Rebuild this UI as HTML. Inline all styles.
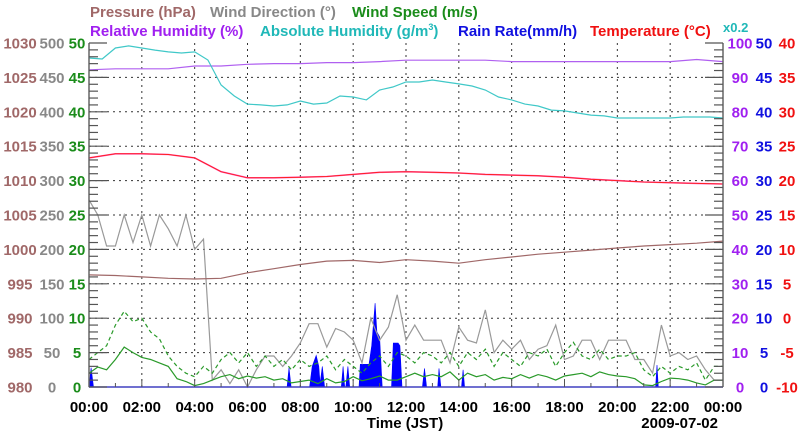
<!DOCTYPE html>
<html><head><meta charset="utf-8"><style>
html,body{margin:0;padding:0;background:#fff;}
svg{display:block;font-family:"Liberation Sans",sans-serif;font-weight:bold;}
</style></head><body>
<svg id="chart" width="800" height="434" viewBox="0 0 800 434" xmlns="http://www.w3.org/2000/svg">
<g font-size="15">
<text x="90" y="17" fill="#a06868">Pressure (hPa)</text>
<text x="210" y="17" fill="#888">Wind Direction (°)</text>
<text x="352" y="17" fill="#1a8c1a">Wind Speed (m/s)</text>
<text x="90" y="36" fill="#a020f0">Relative Humidity (%)</text>
<text x="260" y="36" fill="#20b8b8">Absolute Humidity (g/m<tspan font-size="9" dy="-6">3</tspan><tspan dy="6">)</tspan></text>
<text x="458" y="36" fill="#1010e0">Rain Rate(mm/h)</text>
<text x="590" y="36" fill="#f01010">Temperature (°C)</text>
<text x="723" y="32" fill="#20b8b8" font-size="13">x0.2</text>
</g>
<g id="grid"></g><g id="series"></g><g id="axes"></g>
<text x="405" y="428" text-anchor="middle" font-size="15" fill="#000">Time (JST)</text>
<text x="718" y="428" text-anchor="end" font-size="15" fill="#000">2009-07-02</text>
</svg>
<script>
const pressure=[996.3,996.2,996.0,995.8,995.7,995.8,996.6,997.2,997.8,998.3,998.4,998.1,998.5,998.3,998.0,998.5,998.9,999.3,999.6,999.9,1000.2,1000.5,1000.7,1000.9,1001.2];
const temperature=[23.3,23.9,23.9,23.8,23.3,21.3,20.4,20.4,20.5,20.6,20.9,21.2,21.3,21.2,21.1,20.9,20.8,20.7,20.5,20.2,20.0,19.8,19.7,19.6,19.5];
const relHumidity=[92.2,92.5,92.5,92.5,93.3,93.3,93.8,94,94,94.3,94.3,94.6,95,95,95,95,94.6,94.6,94.6,94.6,94.6,94.6,94.6,95.2,94.6];
const absHumidity=[19.13,19.07,19.71,19.83,19.71,19.59,19.48,19.42,19.48,19.01,17.56,16.92,16.45,16.40,16.34,16.40,16.63,16.45,16.51,16.92,16.86,16.69,17.27,17.44,17.73,17.73,17.85,17.73,17.62,17.50,17.27,16.86,16.69,16.45,16.34,16.10,16.05,15.93,15.81,15.76,15.64,15.64,15.64,15.64,15.64,15.70,15.70,15.70,15.64];
const windDir=[272,250,205,205,250,210,250,205,250,230,205,250,200,215,10,25,5,25,0,25,45,45,30,45,64,92,92,58,85,80,68,35,100,68,87,134,68,90,68,68,68,35,87,68,64,112,50,68,55,68,40,55,60,90,40,45,68,68,40,68,68,68,40,40,20,90,45,50,40,45,25,10,10];
const windSpeed=[2.0,2.9,2.5,4,5.8,5,4.3,4,3.5,3,1.2,0.8,0.2,0.5,1.0,1.5,1.8,1.2,1.6,1.3,1.5,1.0,1.2,0.6,0.8,1.0,0.5,1.2,0.6,0.8,1.5,0.9,1.2,1.6,1.0,1.0,1.5,2.0,1.5,1.8,1.5,2.2,1.0,2.0,1.5,1.8,1.0,1.4,1.2,1.8,1.3,1.8,1.5,1.0,1.6,1.8,2.0,1.5,2.2,1.8,1.6,1.5,1.2,0.3,0.2,0.8,1.3,1.2,1.0,0.6,0.3,1.0,1.0];
const windGust=[4,5,6,9,11,9.5,10,8,7,4.5,3,2,1.5,3,2,4,5,3.5,5,3,4.5,3,4,2.5,4,3,3.5,4.5,2.5,4,3,2,3.5,4.5,3,5,4.5,3.5,5,4.5,3.5,5,3,5,4,5.5,3,5,4,3,5,4.5,5.5,3,5,6.5,4.5,4,5.5,4,4.5,4.5,5,2.5,1.5,3,2,3,2.5,3.5,1,3,3];
const rainT=[0,0.08,0.17,7.5,7.57,7.65,8.35,8.45,8.6,8.7,8.75,8.83,8.92,9.55,9.62,9.68,9.72,9.8,9.87,10.22,10.27,10.6,10.7,10.83,10.9,11.0,11.1,11.45,11.52,11.7,11.77,11.85,12.62,12.7,12.78,13.2,13.25,13.32,14.1,14.16,14.22,21.45,21.5,21.55,24];
const rainV=[0,2.8,0,0,2.8,0,0,3,4.6,3,0.5,3,0,0,3,0,0,3,0,0,3.3,3.3,6,12.2,8,7.3,0,0,6.4,6.4,6,0,0,2.7,0,0,2.7,0,0,2.5,0,0,3.2,0,0];
const xTickLabels=["00:00","02:00","04:00","06:00","08:00","10:00","12:00","14:00","16:00","18:00","20:00","22:00","00:00"];
const pressureTicks=[980,985,990,995,1000,1005,1010,1015,1020,1025,1030];
const dirTicks=[0,50,100,150,200,250,300,350,400,450,500];
const speedTicks=[0,5,10,15,20,25,30,35,40,45,50];
const rhTicks=[0,10,20,30,40,50,60,70,80,90,100];
const rainTicks=[0,5,10,15,20,25,30,35,40,45,50];
const tempTicks=[-10,-5,0,5,10,15,20,25,30,35,40];

const NS="http://www.w3.org/2000/svg";
const X0=89,X1=723,Y0=387,Y1=43;
const xs=t=>X0+t/24*(X1-X0);
const ys=(v,min,max)=>Y0-(v-min)/(max-min)*(Y0-Y1);
function mk(tag,attrs,parent){const e=document.createElementNS(NS,tag);for(const k in attrs)e.setAttribute(k,attrs[k]);parent.appendChild(e);return e;}
const grid=document.getElementById('grid'),series=document.getElementById('series'),axes=document.getElementById('axes');

for(let i=1;i<10;i++){const y=Y0-i*(Y0-Y1)/10;
 const l=mk('line',{x1:X0,x2:X1,y1:y,y2:y,stroke:'#333','stroke-width':1,'stroke-dasharray':'2,4'},grid);
 
 }
for(let i=1;i<12;i++){const x=xs(i*2);
 const l=mk('line',{x1:x,x2:x,y1:Y1,y2:Y0,stroke:'#333','stroke-width':1,'stroke-dasharray':'2,4'},grid);
 
 }

function line(vals,step,min,max,color,name,extra){
 const pts=vals.map((v,i)=>xs(i*step).toFixed(1)+','+ys(v,min,max).toFixed(1)).join(' ');
 const p=mk('polyline',Object.assign({points:pts,fill:'none',stroke:color,'stroke-width':1.2},extra||{}),series);
 
 
 return p;}

{let d='M'+xs(rainT[0])+','+Y0;
 rainT.forEach((t,i)=>{d+=' L'+xs(t).toFixed(1)+','+ys(rainV[i],0,50).toFixed(1);});
 d+=' L'+xs(rainT[rainT.length-1])+','+Y0+' Z';
 const p=mk('path',{d:d,fill:'#0000ff',stroke:'#0000ff','stroke-width':0.6},series);
 
 }
line(windDir,1/3,0,500,'#999','wind-direction-line');
line(windGust,1/3,0,50,'#2a9a2a','wind-gust-line',{'stroke-dasharray':'4,3'});
line(windSpeed,1/3,0,50,'#2a9a2a','wind-speed-line');
line(pressure,1,980,1030,'#a06868','pressure-line');
line(temperature,1,-10,40,'#ff60d0','dewpoint-shadow-line',{'stroke-width':1.6});
line(temperature,1,-10,40,'#ff2020','temperature-line',{'stroke-width':1});
line(relHumidity,1,0,100,'#b060f0','relative-humidity-line');
line(absHumidity,0.5,0,20,'#40c8c8','absolute-humidity-line');

{const b=mk('line',{x1:X0,x2:X1,y1:Y0,y2:Y0,stroke:'#4040c0','stroke-width':1.5},axes);
 
 
 [X0,X1].forEach(x=>{const a=mk('line',{x1:x,x2:x,y1:Y1,y2:Y0,stroke:'#666','stroke-width':1.5},axes);
 
 });
 for(let i=0;i<=50;i++){const y=Y0-i*(Y0-Y1)/50;const L=i%5==0?18:9;
  const t1=mk('line',{x1:X0,x2:X0+L,y1:y,y2:y,stroke:'#555','stroke-width':1.2},axes);
  
  
  const t2=mk('line',{x1:X1-L,x2:X1,y1:y,y2:y,stroke:'#555','stroke-width':1.2},axes);
  
  }
 for(let h=1;h<24;h++){const x=xs(h);
  const t=mk('line',{x1:x,x2:x,y1:Y0,y2:Y0-(h%2?4:8),stroke:'#555','stroke-width':1},axes);
  
  }
}
function labels(arr,cx,color,name,anchor){arr.forEach((v,i)=>{const t=mk('text',{x:cx,y:ys(i,0,10)+5.5,'text-anchor':anchor||'middle','font-size':15,fill:color},axes);
 t.textContent=v;
 
 });}
labels(pressureTicks,20,'#a06868','pressure-tick-label');
labels(dirTicks,52,'#888','wind-direction-tick-label');
labels(speedTicks,77,'#1a8c1a','wind-speed-tick-label');
labels(rhTicks,740,'#a020f0','humidity-tick-label');
labels(rainTicks,764,'#1010e0','rain-rate-tick-label');
labels(tempTicks,787,'#f01010','temperature-tick-label');
xTickLabels.forEach((s,i)=>{const t=mk('text',{x:xs(i*2),y:412,'text-anchor':'middle','font-size':15,fill:'#000'},axes);
 t.textContent=s;
 
 });
</script>
</body></html>
